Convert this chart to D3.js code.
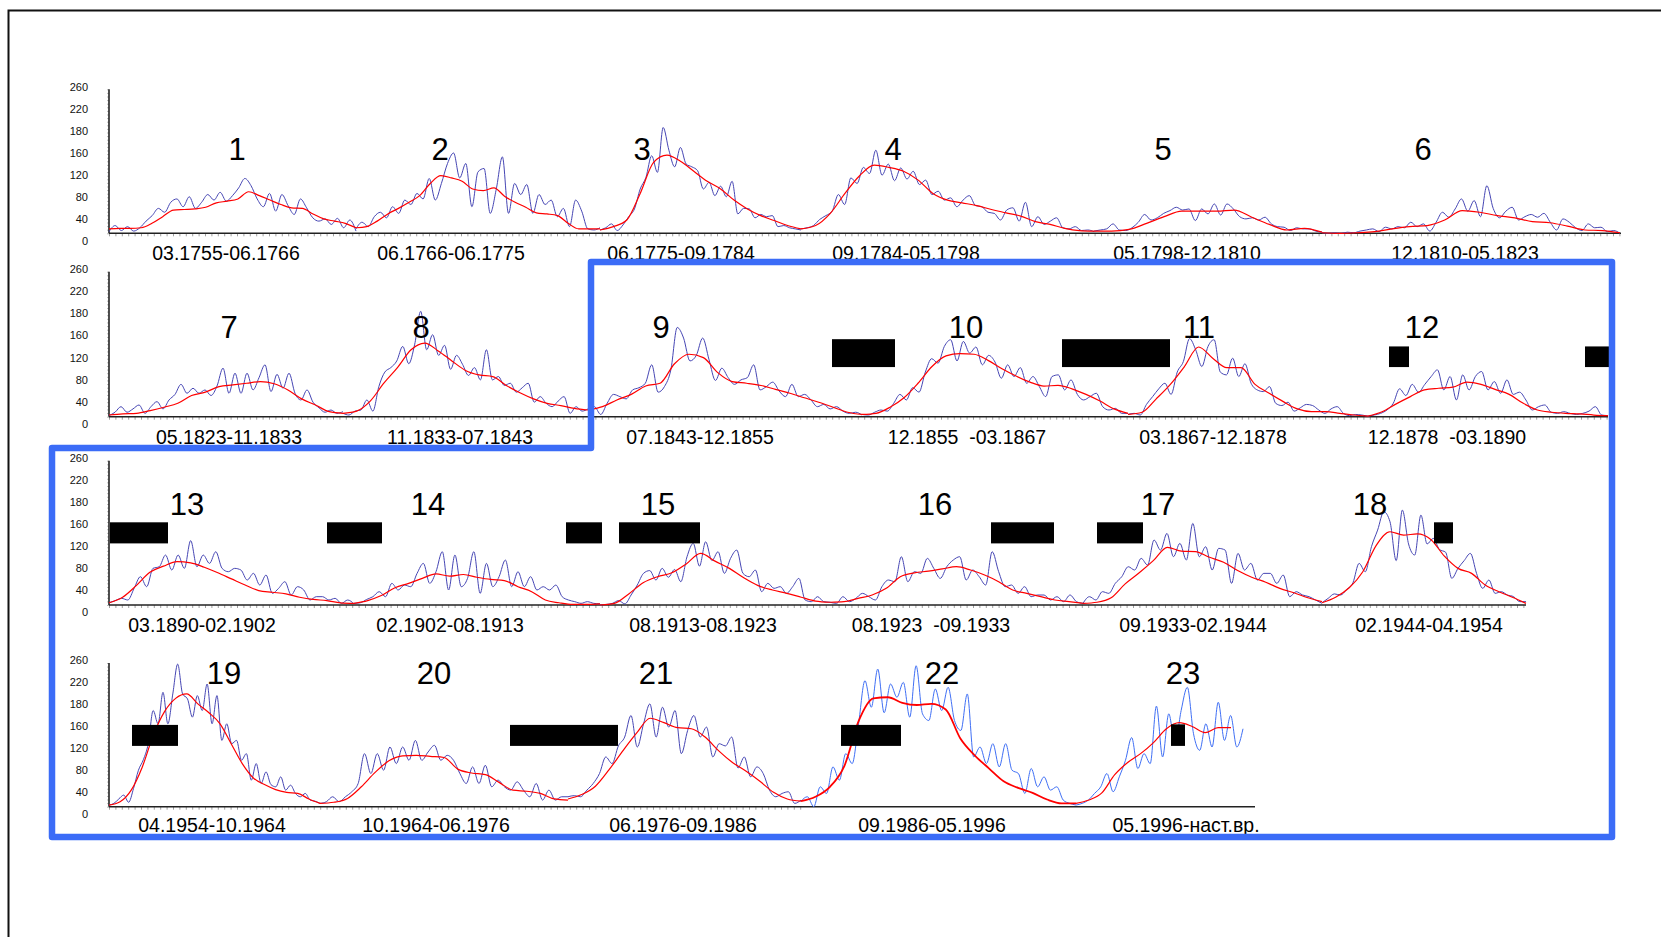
<!DOCTYPE html>
<html>
<head>
<meta charset="utf-8">
<script src="https://cdn.jsdelivr.net/npm/d3@7"></script>
<style>
  body { margin: 0; background: #fff; }
  svg { display: block; }
  text { font-family: "Liberation Sans", Arial, sans-serif; white-space: pre; }
</style>
</head>
<body>
<svg id="chart" width="1661" height="937"></svg>
<script>
// ---- data: solar cycles, monthly (blue) and smoothed (red) sunspot numbers ----
const cycleNames = ['1','2','3','4','5','6','7','8','9','10','11','12',
                    '13','14','15','16','17','18','19','20','21','22','23'];

const periods = ['03.1755-06.1766','06.1766-06.1775','06.1775-09.1784','09.1784-05.1798',
  '05.1798-12.1810','12.1810-05.1823','05.1823-11.1833','11.1833-07.1843','07.1843-12.1855',
  '12.1855  -03.1867','03.1867-12.1878','12.1878  -03.1890','03.1890-02.1902','02.1902-08.1913',
  '08.1913-08.1923','08.1923  -09.1933','09.1933-02.1944','02.1944-04.1954','04.1954-10.1964',
  '10.1964-06.1976','06.1976-09.1986','09.1986-05.1996','05.1996-наст.вр.'];

const yTickLabels = ['0','40','80','120','160','180','220','260'];

const blue1 = [3,14,5,12,4,10,22,32,45,38,56,62,48,66,45,56,70,60,74,58,68,82,99,86,62,48,72,40,70,50,34,62,46,28,22,26,16,27,10,24,4];
const blue2 = [8,20,12,30,38,28,48,36,60,52,72,62,99,60,90,126,145,100,126,48,111,117,36,80,138,36,90,70,88,36,70,52,60,30,45,12,60,40,8,6,10];
const blue3 = [6,10,17,5,15,30,44,80,101,140,110,191,150,120,155,125,120,113,80,92,68,85,66,94,35,45,44,28,34,30,32,12,14,10,8,6];
const blue4 = [8,10,14,25,32,40,70,52,100,90,119,108,150,105,125,95,118,98,112,88,96,70,76,60,64,48,60,68,50,48,38,36,24,42,46,22,56,12,30,16,22,28,10,8,12,5,6,3];
const blue5 = [4,6,8,17,6,5,10,20,34,24,28,36,41,47,42,44,23,44,35,53,33,53,44,30,26,28,24,29,17,12,11,5,10,8,8,4,2];
const blue6 = [1,0,1,0,2,1,4,6,8,3,11,8,12,10,20,12,17,4,20,38,29,44,62,40,59,30,86,45,28,40,47,24,30,34,29,36,20,6,26,20,10,5,17,10,11,3,5,0];
const blue7 = [2,8,18,8,14,21,6,18,27,14,30,40,58,42,51,42,48,38,55,87,42,78,42,78,48,70,93,45,76,51,78,42,30,48,26,16,8,12,6,9];
const blue8 = [6,3,10,12,30,10,54,80,88,100,126,95,130,189,120,147,110,128,85,110,94,74,88,66,120,66,72,56,60,44,52,60,26,36,24,18,28,36,6,18,10,14];
const blue9 = [12,18,4,24,40,36,32,48,52,60,93,44,54,84,160,141,100,110,141,102,65,87,70,58,66,70,93,48,54,62,46,36,58,36,40,30,18,22,14,18,10,6,8,3];
const blue10 = [4,3,8,12,10,24,40,30,52,44,80,104,96,126,138,100,135,114,125,93,110,98,69,93,72,88,60,72,54,36,72,75,48,66,40,30,36,42,18,12,15,6,6];
const blue11 = [4,6,3,22,36,50,60,40,80,99,140,120,90,126,138,80,75,105,72,95,60,48,45,54,24,20,26,10,16,22,20,12,6,14,18,6,2,4,3,1];
const blue12 = [1,3,6,12,24,50,38,58,44,58,72,84,48,72,30,75,48,72,81,48,63,42,66,40,44,30,12,18,21,8,6,9,6,4,6,10,18,3,2];
const blue13 = [4,8,12,9,30,51,33,66,69,90,63,90,66,116,69,90,75,96,66,60,66,63,45,57,36,54,21,30,42,18,33,27,9,15,15,9,12,3,9,2];
const blue14 = [3,4,10,15,24,15,39,27,36,33,57,75,39,60,96,27,90,33,48,96,21,75,33,51,81,33,60,33,51,27,33,27,36,15,9,6,3,6,3,2];
const blue15 = [0,1,3,8,2,18,36,57,62,45,66,50,64,42,87,111,70,114,80,96,57,84,99,57,51,63,24,39,30,33,21,33,48,9,6,15,6,5];
const blue16 = [5,3,15,6,12,21,15,9,33,45,42,87,42,60,57,84,66,48,69,81,87,45,63,51,36,96,60,33,36,21,33,15,18,18,9,15,6,18,6,3];
const blue17 = [3,15,9,24,21,39,51,69,63,84,72,117,99,129,87,111,81,147,87,105,63,102,99,39,93,63,75,45,57,57,39,54,15,24,18,15,9,3];
const blue18 = [4,12,20,18,28,40,75,60,105,135,168,150,80,171,110,90,162,110,120,100,95,48,66,80,93,57,30,45,21,24,18,15,6,6];
const blue19 = [3,6,14,21,8,33,66,85,114,174,150,207,150,204,258,204,195,162,201,174,222,150,201,120,150,114,120,84,96,48,78,42,63,40,36,54,30,39,24,18,24,12,10,6];
const blue20 = [6,9,18,9,18,27,42,96,60,96,66,108,78,108,84,120,84,99,111,84,93,84,60,42,72,42,75,36,48,36,30,45,30,18,42,12,30,12,18,18];
const blue21 = [18,20,18,30,42,60,90,78,110,126,165,108,150,186,126,180,144,174,96,138,165,126,144,90,114,110,126,70,90,54,72,60,30,18,24,27,6,12];
const blue22 = [10,18,0,36,24,72,48,96,78,150,228,180,249,170,222,198,225,162,255,168,156,213,174,216,156,138,204,90,108,78,114,72,114,66,60,24,69,36,54,30,36,12,6,3];
const blue23 = [3,6,12,24,36,60,27,54,84,125,69,96,78,182,90,168,114,174,216,132,102,150,108,189,120,165,108,141];

const red1 = [8,9,9,10,18,30,42,43,44,47,55,58,62,75,68,60,52,46,45,35,26,22,18,10];
const red2 = [10,12,22,35,45,56,68,90,104,100,94,80,77,82,67,56,47,37,35,32,18,8,8,8];
const red3 = [6,12,24,72,128,141,130,112,94,80,60,44,32,23,14,8];
const red4 = [8,14,36,72,104,123,119,112,96,72,60,55,50,43,37,31,21,16,9,5,4];
const red5 = [4,4,7,18,30,40,40,40,42,29,16,6,9,2];
const red6 = [1,0,1,3,8,12,14,24,41,38,32,28,21,19,13,6,5,1];
const red7 = [3,5,6,11,17,24,38,44,54,57,60,63,59,48,32,21,9,6];
const red8 = [6,10,28,60,88,120,132,118,100,83,75,72,56,43,32,24,20,15,12];
const red9 = [12,18,30,40,55,60,95,112,106,79,63,60,56,49,42,34,26,17,8,4];
const red10 = [4,6,17,34,60,90,109,113,112,101,86,73,62,55,56,50,40,28,14,6];
const red11 = [4,8,32,58,90,125,105,88,88,58,42,27,14,9,9,6,3,1];
const red12 = [1,9,23,36,48,51,53,62,58,49,40,24,12,8,6,5,3,2];
const red13 = [4,14,35,59,70,78,76,68,58,47,36,26,23,20,14,10,8,4,3];
const red14 = [3,8,17,31,39,48,56,52,55,50,46,44,33,24,9,4,1,1,2];
const red15 = [0,3,20,40,51,58,74,93,79,66,49,35,27,21,14,7,5];
const red16 = [5,6,12,18,30,51,58,61,65,69,63,54,42,27,21,15,9,6,3];
const red17 = [3,5,13,38,58,80,104,97,96,86,77,62,50,41,30,22,13,6];
const red18 = [4,14,31,60,108,132,126,128,118,88,66,57,36,24,14,3];
const red19 = [3,9,30,72,130,172,196,204,186,170,150,114,78,52,40,31,26,24,14,6];
const red20 = [6,8,15,36,62,83,92,93,91,89,68,61,58,44,30,28,24,14,12];
const red21 = [14,22,37,67,101,133,160,152,143,141,126,101,80,64,46,26,14,10];
const red22 = [10,18,36,74,156,196,198,188,184,186,176,124,93,69,46,34,25,13,6,6];
const red23 = [6,12,25,58,80,96,116,141,152,145,134,143,143];

const blueSeries = [blue1,blue2,blue3,blue4,blue5,blue6,blue7,blue8,blue9,blue10,blue11,blue12,
  blue13,blue14,blue15,blue16,blue17,blue18,blue19,blue20,blue21,blue22,blue23];
const redSeries = [red1,red2,red3,red4,red5,red6,red7,red8,red9,red10,red11,red12,
  red13,red14,red15,red16,red17,red18,red19,red20,red21,red22,red23];

// ---- layout ----
const W = 1661, H = 937;
const rows = [
  { baseline: 233.3, top: 89.3,  x1: 1621, tickEnd: 1621, cycleY: 149, periodY: 253 },
  { baseline: 416.7, top: 271.7, x1: 1608, tickEnd: 1608, cycleY: 327, periodY: 437 },
  { baseline: 605,   top: 460.7, x1: 1526, tickEnd: 1526, cycleY: 504, periodY: 625 },
  { baseline: 806.7, top: 663,   x1: 1255, tickEnd: 803,  cycleY: 673, periodY: 825 }
];
const axisX = 109;
const cycleRow = [0,0,0,0,0,0, 1,1,1,1,1,1, 2,2,2,2,2,2, 3,3,3,3,3];
// horizontal extent of each cycle panel (px)
const cycleSpan = [[109,356],[356,600],[600,801],[801,1094],[1094,1322],[1322,1620],
  [109,343],[343,588],[588,862],[862,1128],[1128,1368],[1368,1608],
  [109,354],[354,600],[600,830],[830,1083],[1083,1322],[1322,1526],
  [109,320],[320,568],[568,801],[801,1076],[1076,1243]];
const redEndX = { 22: 1231 };
const cycleLabelX = [237,440,642,893,1163,1423, 229,421,661,966,1199,1422,
  187,428,658,935,1158,1370, 224,434,656,942,1183];
const periodLabelX = [226,451,681,906,1187,1465, 229,460,700,967,1213,1447,
  202,450,703,931,1193,1429, 212,436,683,932,1186];
// black masking bars: [row, x0, x1, top value, bottom value]
const blackBars = [
  [1, 832, 895, 139, 89], [1, 1062, 1170, 139, 89], [1, 1389, 1409, 126, 89], [1, 1585, 1612, 126, 89],
  [2, 110, 168, 149, 111], [2, 327, 382, 149, 111], [2, 566, 602, 149, 111], [2, 619, 700, 149, 111],
  [2, 991, 1054, 149, 111], [2, 1097, 1143, 149, 111], [2, 1434, 1453, 149, 111],
  [3, 132, 178, 148, 110], [3, 510, 618, 148, 110], [3, 841, 901, 148, 110], [3, 1171, 1185, 149, 110]
];

const svg = d3.select('#chart');

// outer frame
svg.append('path')
  .attr('d', `M8.5,${H} V10.5 H${W}`)
  .attr('fill', 'none').attr('stroke', '#111').attr('stroke-width', 2);

// ---- axes per row ----
rows.forEach(r => {
  const y = d3.scaleLinear().domain([0, 260]).range([r.baseline, r.top]);
  const g = svg.append('g');

  // minor ticks under the time axis
  const tx = d3.scaleLinear().domain([axisX, r.tickEnd]).range([axisX, r.tickEnd]);
  const xAxis = g.append('g').attr('transform', `translate(0,${r.baseline})`)
    .call(d3.axisBottom(tx).tickValues(d3.range(axisX, r.tickEnd, 6.4)).tickSize(3).tickFormat(''));
  xAxis.select('.domain').remove();
  xAxis.selectAll('.tick line').attr('stroke', '#777').attr('stroke-width', 0.7);

  const yAxis = g.append('g').attr('transform', `translate(${axisX},0)`)
    .call(d3.axisLeft(y).tickValues(d3.range(0, 261, 6.5)).tickSize(2).tickFormat(''));
  yAxis.select('.domain').remove();
  yAxis.selectAll('.tick line').attr('stroke', '#888').attr('stroke-width', 0.6);

  g.append('line').attr('x1', axisX).attr('x2', r.x1).attr('y1', r.baseline).attr('y2', r.baseline)
    .attr('stroke', '#222').attr('stroke-width', 1.6);
  g.append('line').attr('x1', axisX).attr('x2', axisX).attr('y1', r.baseline).attr('y2', r.top)
    .attr('stroke', '#222').attr('stroke-width', 1.6);

  // tick labels (evenly spaced as in the source)
  const ly = d3.scalePoint().domain(yTickLabels).range([r.baseline + 7.5, r.top - 2.5]);
  g.selectAll('.ytl').data(yTickLabels).enter().append('text')
    .attr('x', 88).attr('y', d => ly(d)).attr('dy', '0.35em')
    .attr('text-anchor', 'end').attr('font-size', 11).attr('fill', '#111')
    .text(d => d);
});

// ---- cycles ----
const plot = svg.append('g');
blueSeries.forEach((blue, i) => {
  const r = rows[cycleRow[i]];
  const y = d3.scaleLinear().domain([0, 260]).range([r.baseline, r.top]);
  const [x0, x1] = cycleSpan[i];
  const xb = d3.scaleLinear().domain([0, blue.length - 1]).range([x0, x1]);
  const red = redSeries[i];
  const xr = d3.scaleLinear().domain([0, red.length - 1]).range([x0, redEndX[i] || x1]);
  const modern = i >= 21;

  plot.append('path').datum(blue)
    .attr('d', d3.line().x((d, k) => xb(k)).y(d => y(d)).curve(d3.curveMonotoneX))
    .attr('fill', 'none')
    .attr('stroke', modern ? '#3f6ff5' : '#4646b4')
    .attr('stroke-width', 1);

  plot.append('path').datum(red)
    .attr('d', d3.line().x((d, k) => xr(k)).y(d => y(d)).curve(d3.curveMonotoneX))
    .attr('fill', 'none')
    .attr('stroke', '#ff0000')
    .attr('stroke-width', i === 21 ? 1.8 : 1.2);
});

// ---- black bars ----
svg.append('g').selectAll('rect').data(blackBars).enter().append('rect')
  .attr('x', d => d[1])
  .attr('width', d => d[2] - d[1])
  .attr('y', d => d3.scaleLinear().domain([0, 260]).range([rows[d[0]].baseline, rows[d[0]].top])(d[3]))
  .attr('height', d => {
    const y = d3.scaleLinear().domain([0, 260]).range([rows[d[0]].baseline, rows[d[0]].top]);
    return y(d[4]) - y(d[3]);
  })
  .attr('fill', '#000');

// ---- labels ----
const labels = svg.append('g');
cycleNames.forEach((name, i) => {
  const r = rows[cycleRow[i]];
  labels.append('text')
    .attr('x', cycleLabelX[i]).attr('y', r.cycleY).attr('dy', '0.36em')
    .attr('text-anchor', 'middle').attr('font-size', 31).attr('fill', '#000')
    .text(name);
  labels.append('text')
    .attr('x', periodLabelX[i]).attr('y', r.periodY).attr('dy', '0.36em')
    .attr('text-anchor', 'middle').attr('font-size', 19.5).attr('fill', '#000')
    .text(periods[i]);
});

// ---- blue outline ----
svg.append('path')
  .attr('d', 'M52,448 H591 V262 H1612 V837 H52 Z')
  .attr('fill', 'none')
  .attr('stroke', '#3b6cf7')
  .attr('stroke-width', 6.5)
  .attr('stroke-linejoin', 'round');
</script>
</body>
</html>
